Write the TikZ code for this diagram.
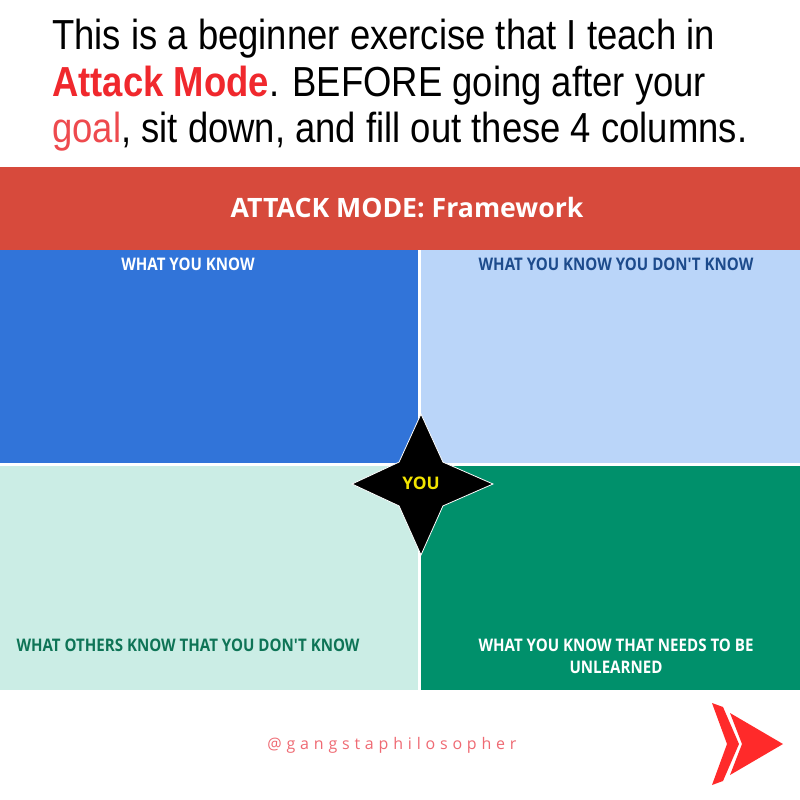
\documentclass[tikz,border=0pt]{standalone}
\usepackage{fontspec}
\usetikzlibrary{calc}
\setmainfont{Liberation Sans}
\newfontfamily\headfont[FakeStretch=0.868]{Liberation Sans}
\newfontfamily\boxfont[FakeStretch=0.87]{Open Sans}
\newfontfamily\titlefont{Open Sans}
\newfontfamily\tagfont[LetterSpace=30]{Open Sans}

\definecolor{bannerred}{HTML}{D74A3C}
\definecolor{knowblue}{HTML}{3174D9}
\definecolor{skyblue}{HTML}{BAD5F9}
\definecolor{mint}{HTML}{CBEDE5}
\definecolor{deepgreen}{HTML}{00906B}
\definecolor{navytext}{HTML}{1D4B8C}
\definecolor{greentext}{HTML}{0E7456}
\definecolor{attackred}{HTML}{F0282D}
\definecolor{goalred}{HTML}{EE4A4E}
\definecolor{tagpink}{HTML}{EF6A73}
\definecolor{logored}{HTML}{FF2A2A}
\definecolor{youyellow}{HTML}{F2E400}

\tikzset{
  headline/.style={anchor=base west,inner sep=0pt,font=\headfont\fontsize{31.5}{36}\selectfont},
  boxlabel/.style={inner sep=0pt,align=center,font=\boxfont\bfseries\fontsize{13}{16.5}\selectfont}
}

\begin{document}
\begin{tikzpicture}[x=0.75pt,y=-0.75pt]
			\useasboundingbox (0,0) rectangle (800,800);
			\fill[white] (0,0) rectangle (800,800);

			\node[headline] (L1) at (52,49) {This is a beginner exercise that I teach in};
			\node[headline] (L2) at (52,96) {\textcolor{attackred}{\bfseries Attack Mode}. BEFORE going after your};
			\node[headline] (L3) at (52,142) {\textcolor{goalred}{goal}, sit down, and fill out these 4 columns.};

			\fill[bannerred] (0,167) rectangle (800,250);
			\node[text=white,font=\titlefont\bfseries\fontsize{20}{22}\selectfont] (T) at (407,208) {ATTACK MODE: Framework};

			\fill[knowblue] (0,250) rectangle (418,463);
			\fill[skyblue] (421,250) rectangle (800,463);
			\fill[mint] (0,466) rectangle (418,690);
			\fill[deepgreen] (421,466) rectangle (800,690);

			\node[boxlabel,text=white] (Q1) at (188,264) {WHAT YOU KNOW};
			\node[boxlabel,text=navytext] (Q2) at (616,264) {WHAT YOU KNOW YOU DON'T KNOW};
			\node[boxlabel,text=greentext] (Q3) at (188,645) {WHAT OTHERS KNOW THAT YOU DON'T KNOW};
			\node[boxlabel,text=white] (Q4) at (616,656) {WHAT YOU KNOW THAT NEEDS TO BE\\UNLEARNED};

			\coordinate (Y) at (421,484);
			\draw[fill=black,draw=white,line width=0.6pt]
			($(Y)+(0:72)$) -- ($(Y)+(315:31)$) -- ($(Y)+(270:70)$)
			-- ($(Y)+(225:31)$) -- ($(Y)+(180:69)$)
			-- ($(Y)+(135:31)$) -- ($(Y)+(90:71)$)
			-- ($(Y)+(45:31)$) -- cycle;
			\node[text=youyellow,font=\titlefont\bfseries\fontsize{13}{15}\selectfont] (U) at (421,483) {YOU};

			\node[text=tagpink,font=\tagfont\fontsize{12}{14}\selectfont] (W) at (392,745) {@gangstaphilosopher};

			\fill[logored] (712,703) -- (723,707) -- (739,744) -- (723,781) -- (712,785) -- (727,744) -- cycle;
			\fill[logored] (730,713) -- (783,744) -- (730,775) -- (742,744) -- cycle;
		\end{tikzpicture}
\end{document}
